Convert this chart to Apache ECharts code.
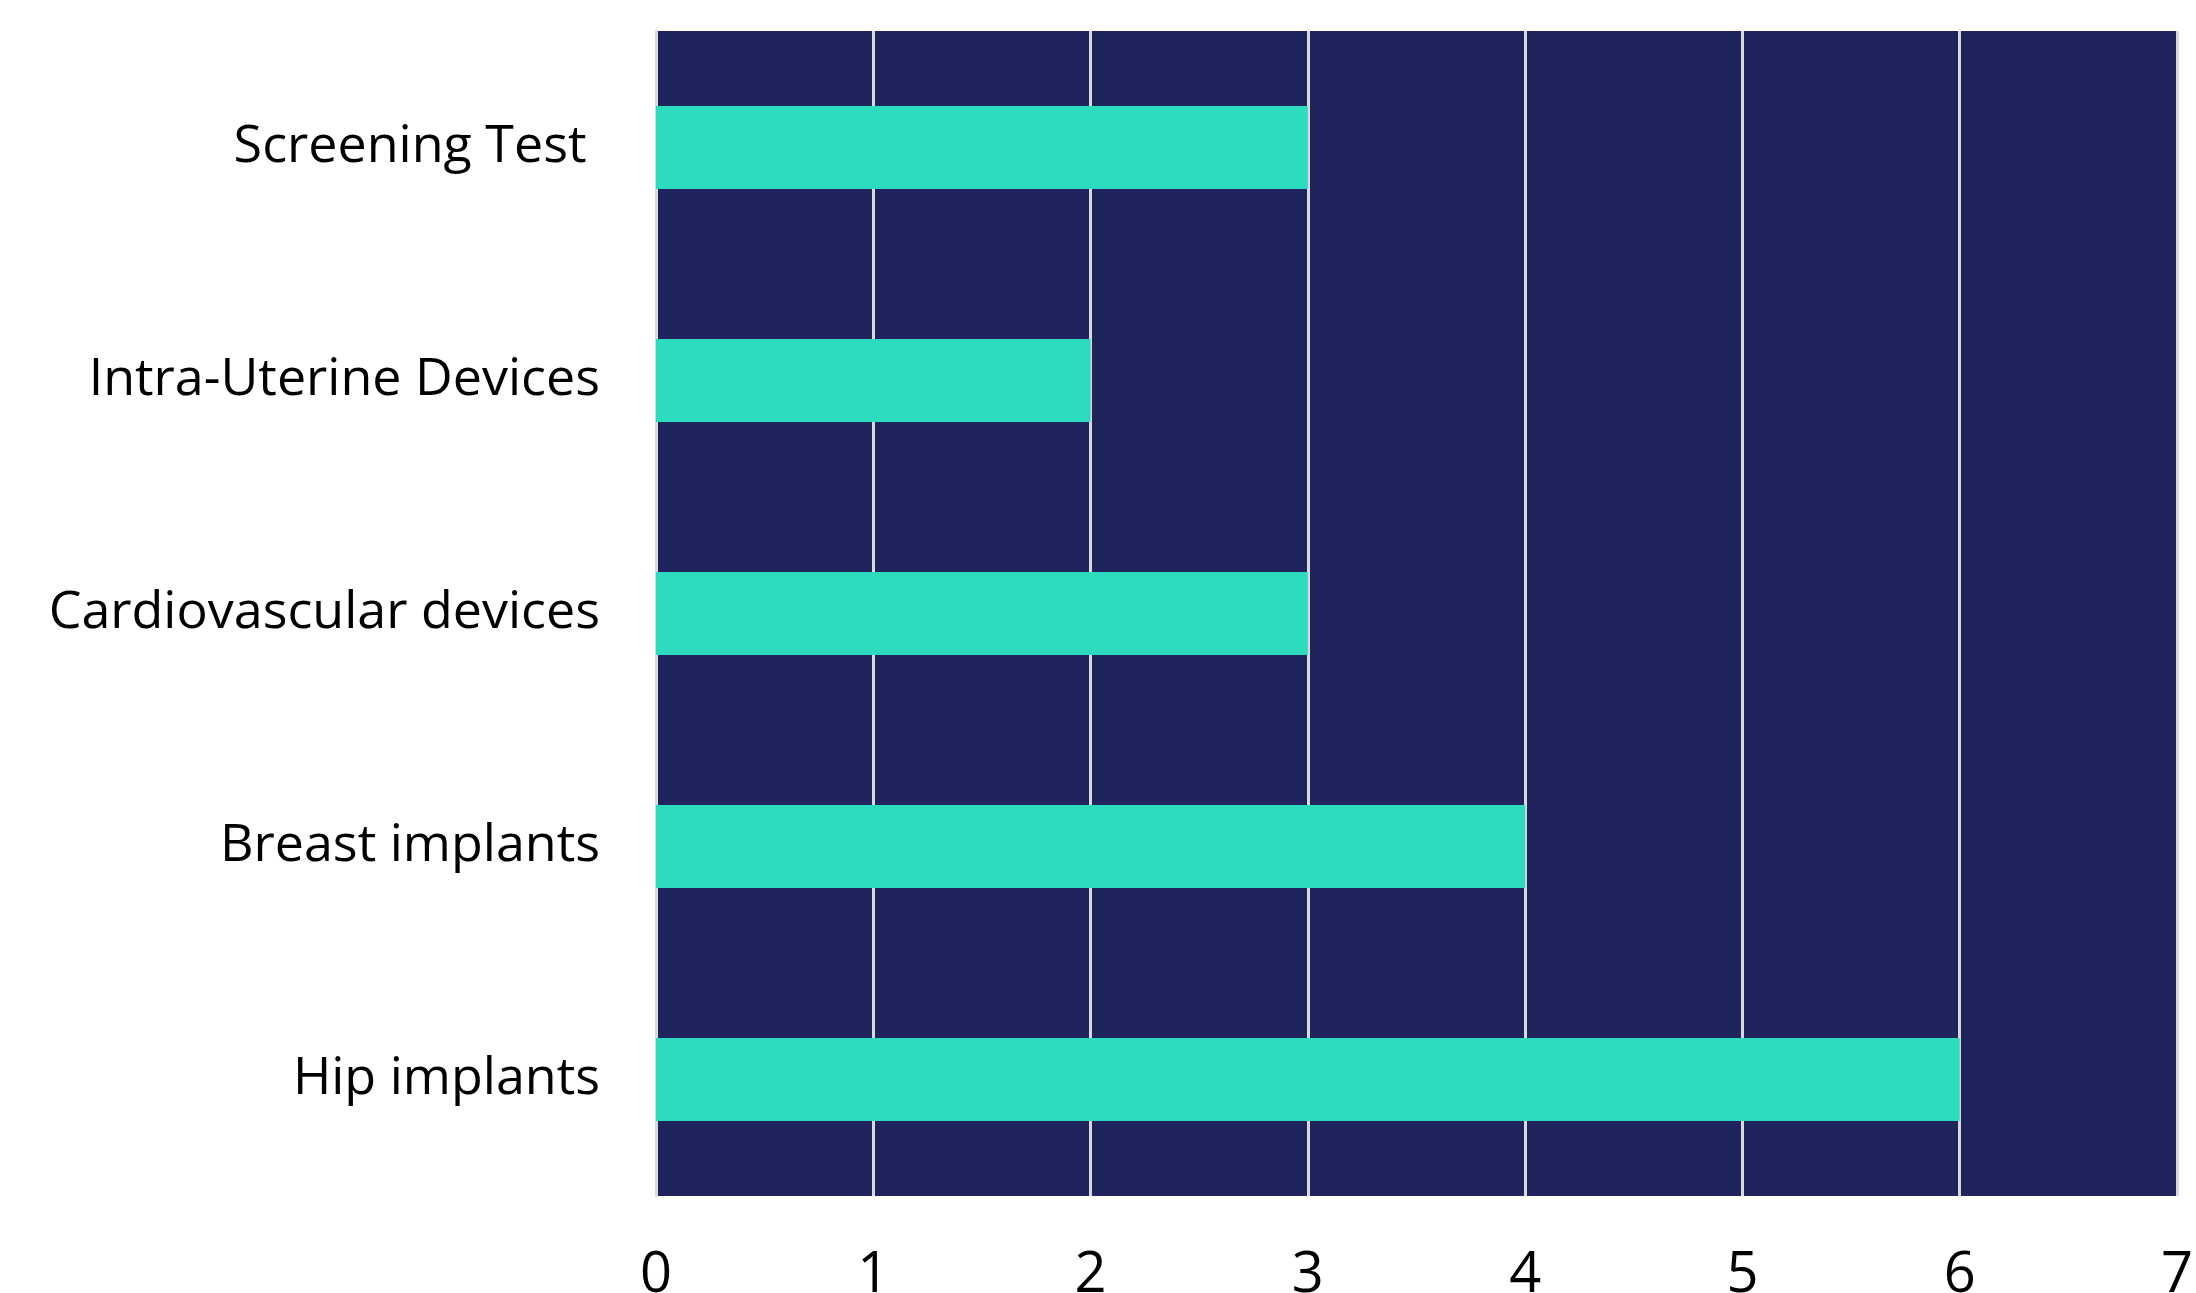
<!DOCTYPE html>
<html>
<head>
<meta charset="utf-8">
<script src="https://cdn.jsdelivr.net/npm/echarts@6/dist/echarts.min.js"></script>
<style>
html,body{margin:0;padding:0;background:#fff;}
#chart{width:2196px;height:1293px;}
</style>
</head>
<body>
<div id="chart"></div>
<script>
const categories = ["Hip implants", "Breast implants", "Cardiovascular devices", "Intra-Uterine Devices", "Screening Test "];
const values = [6, 4, 3, 2, 3];
const xTicks = [0, 1, 2, 3, 4, 5, 6, 7];

const chart = echarts.init(document.getElementById('chart'), null, {renderer: 'canvas'});
const FONT = '"Open Sans", "Noto Sans", sans-serif';
chart.setOption({
  animation: false,
  backgroundColor: '#ffffff',
  grid: {
    left: 656, right: 19, top: 31, bottom: 97,
    containLabel: false, outerBoundsMode: 'none',
    show: true, backgroundColor: '#1F245C', borderWidth: 0
  },
  xAxis: {
    type: 'value',
    min: xTicks[0], max: xTicks[xTicks.length - 1], interval: 1,
    axisLine: {show: false},
    axisTick: {show: false},
    splitLine: {show: true, lineStyle: {color: '#d9d9d9', width: 3}},
    axisLabel: {
      color: '#000', fontFamily: FONT, fontSize: 56, margin: 52,
      formatter: v => String(v)
    }
  },
  yAxis: {
    type: 'category',
    data: categories,
    axisLine: {show: true, lineStyle: {color: '#d9d9d9', width: 3}},
    axisTick: {show: false},
    axisLabel: {color: '#000', fontFamily: FONT, fontSize: 52, margin: 56}
  },
  series: [{
    type: 'bar',
    data: values,
    barWidth: 83,
    itemStyle: {color: '#2DDBBF'}
  }]
});
</script>
</body>
</html>
